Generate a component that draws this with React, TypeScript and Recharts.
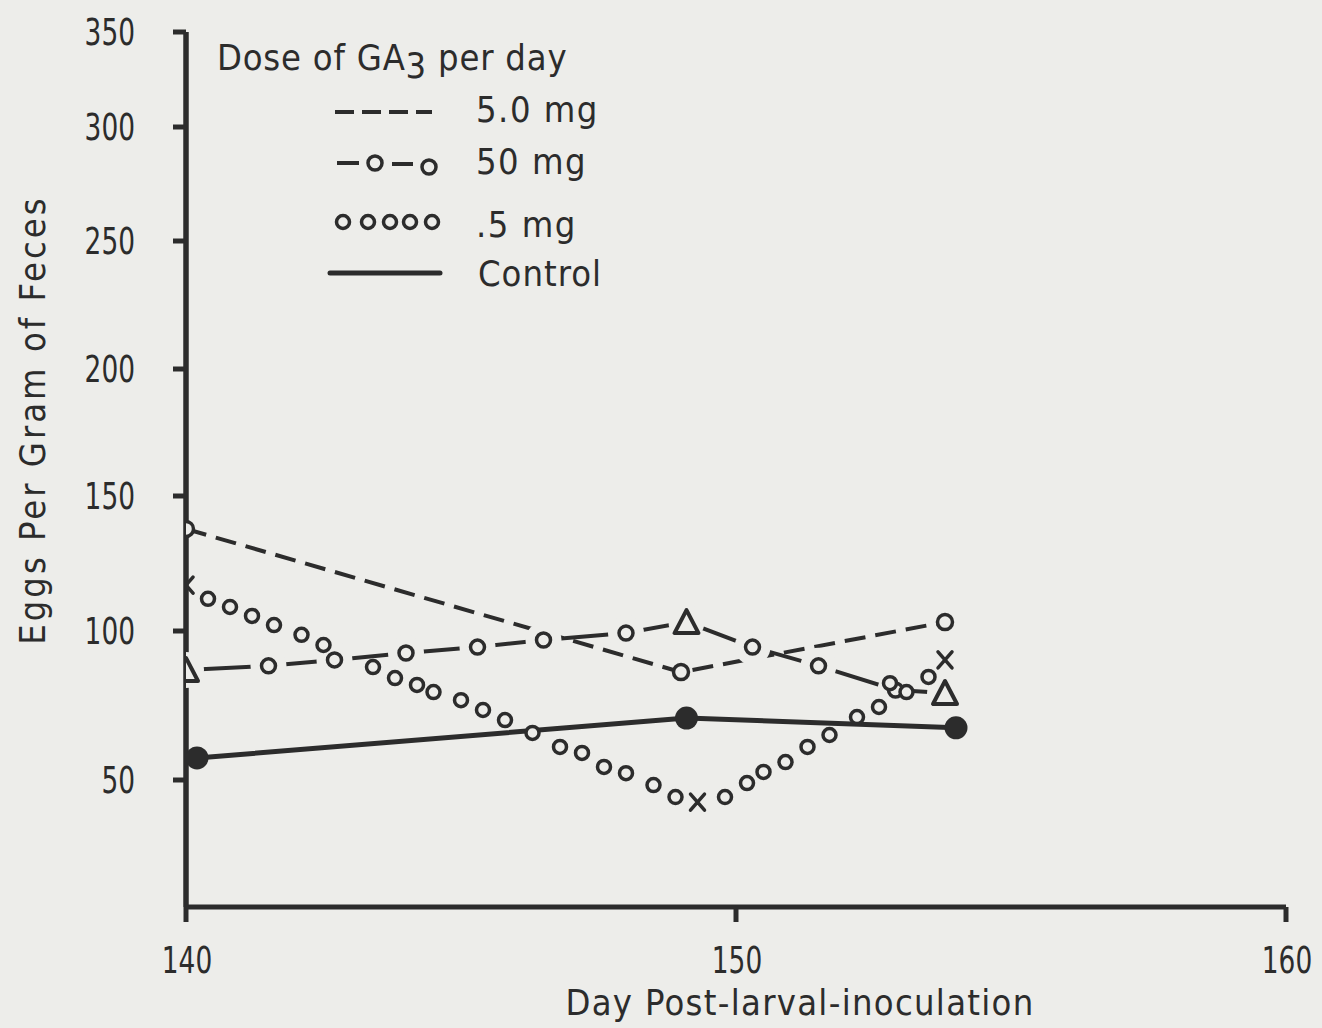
import React from 'react';
import { LineChart, Line, XAxis, YAxis, Legend } from 'recharts';

const INK = '#2c2c2c';
const PAPER = '#ededea';
const FONT = "'DejaVu Sans Condensed', 'Liberation Sans Narrow', sans-serif";

// The original y axis was drawn by hand and its ticks are not evenly spaced,
// so each labelled value is pinned to its measured height above the x axis.
const Y_TICK_VALUES = [0, 50, 100, 150, 200, 250, 300, 350];
const Y_TICK_HEIGHTS = [0, 127, 276, 411, 538, 666, 780, 875];

const X_TICKS = [140, 150, 160];

// 5.0 mg (dashed)
const DOSE5_DAYS = [140, 149, 153.8];
const DOSE5_EGGS = [137.8, 86.2, 103.3];

// 50 mg: measured points (triangles) and the circles drawn along the line
const DOSE50_DAYS = [140, 149.1, 153.8];
const DOSE50_EGGS = [86.9, 103.3, 79.2];
const DOSE50_TRAIL_DAYS = [141.5, 142.7, 144.0, 145.3, 146.5, 148.0, 150.3, 151.5, 152.9];
const DOSE50_TRAIL_EGGS = [88.3, 90.3, 92.6, 94.6, 97.0, 99.3, 94.6, 88.3, 80.2];

// .5 mg: measured points (x) and the row of circles between them
const DOSE05_DAYS = [140, 149.3, 153.8];
const DOSE05_EGGS = [117.0, 41.3, 90.3];
const DOSE05_TRAIL_DAYS = [
  140.4, 140.8, 141.2, 141.6, 142.1, 142.5, 143.4, 143.8, 144.2, 144.5, 145.0,
  145.4, 145.8, 146.3, 146.8, 147.2, 147.6, 148.0, 148.5, 148.9, 149.8, 150.2,
  150.5, 150.9, 151.3, 151.7, 152.2, 152.6, 152.8, 153.1, 153.5,
];
const DOSE05_TRAIL_EGGS = [
  111.9, 108.9, 105.6, 102.2, 98.7, 95.3, 87.9, 84.2, 81.9, 79.5, 76.8,
  73.5, 70.1, 65.8, 61.1, 59.1, 54.4, 52.3, 48.0, 43.3, 43.3, 48.8,
  52.7, 56.0, 61.1, 65.1, 71.1, 74.5, 82.5, 79.5, 84.6,
];

// Control (solid, filled dots)
const CONTROL_DAYS = [140.2, 149.1, 154];
const CONTROL_EGGS = [57.4, 70.8, 67.5];

function toAxis(v: number): number {
  const n = Y_TICK_VALUES.length;
  for (let i = 1; i < n; i++) {
    if (v <= Y_TICK_VALUES[i] || i === n - 1) {
      const v0 = Y_TICK_VALUES[i - 1];
      const v1 = Y_TICK_VALUES[i];
      const h0 = Y_TICK_HEIGHTS[i - 1];
      const h1 = Y_TICK_HEIGHTS[i];
      return h0 + ((v - v0) / (v1 - v0)) * (h1 - h0);
    }
  }
  return v;
}

type Row = { day: number; eggs: number; y: number; measured: boolean };

function rows(days: number[], eggs: number[], measured = true): Row[] {
  return days.map((d, i) => ({ day: d, eggs: eggs[i], y: toAxis(eggs[i]), measured }));
}

const dose5Rows = rows(DOSE5_DAYS, DOSE5_EGGS);
const dose50Rows = [
  ...rows(DOSE50_DAYS, DOSE50_EGGS),
  ...rows(DOSE50_TRAIL_DAYS, DOSE50_TRAIL_EGGS, false),
].sort((a, b) => a.day - b.day);
const dose05Rows = rows(DOSE05_DAYS, DOSE05_EGGS);
const dose05TrailRows = rows(DOSE05_TRAIL_DAYS, DOSE05_TRAIL_EGGS, false);
const controlRows = rows(CONTROL_DAYS, CONTROL_EGGS);

const yTicks = Y_TICK_HEIGHTS.slice(1);
const yLabel = (h: number) => {
  const i = Y_TICK_HEIGHTS.indexOf(h);
  return i >= 0 ? String(Y_TICK_VALUES[i]) : '';
};

const textStyle = { fill: INK, fontFamily: FONT, fontSize: 36 };
// the typed digits are much narrower than any installed face
const DIGIT_W = 16.8;

const YTickLabel = (p: any) => {
  const { x, y, payload } = p;
  const s = yLabel(payload.value);
  return (
    <text x={x} y={y} dy="0.36em" textAnchor="end" textLength={s.length * DIGIT_W} lengthAdjust="spacingAndGlyphs" {...textStyle} fontSize={37}>
      {s}
    </text>
  );
};

const XTickLabel = (p: any) => {
  const { x, y, payload } = p;
  const s = String(payload.value);
  return (
    <text x={x + 1} y={y} dy="0.72em" textAnchor="middle" textLength={s.length * DIGIT_W} lengthAdjust="spacingAndGlyphs" {...textStyle} fontSize={38}>
      {s}
    </text>
  );
};

const openCircle = (r: number, w: number) => (p: any) => {
  const { cx, cy, index } = p;
  if (cx == null || cy == null) return <g key={`oc-${index}`} />;
  return <circle key={`oc-${index}`} cx={cx} cy={cy} r={r} fill={PAPER} stroke={INK} strokeWidth={w} />;
};

const dose50Dot = (p: any) => {
  const { cx, cy, index, payload } = p;
  if (cx == null || cy == null) return <g key={`d50-${index}`} />;
  if (payload?.measured) {
    return (
      <g key={`d50-${index}`}>
        <circle cx={cx} cy={cy} r={18} fill={PAPER} />
        <path
          d={`M${cx},${cy - 12} L${cx - 12},${cy + 11} L${cx + 12},${cy + 11} Z`}
          fill={PAPER}
          stroke={INK}
          strokeWidth={4}
          strokeLinejoin="round"
        />
      </g>
    );
  }
  return (
    <g key={`d50-${index}`}>
      <circle cx={cx} cy={cy} r={18} fill={PAPER} />
      <circle cx={cx} cy={cy} r={7} fill={PAPER} stroke={INK} strokeWidth={3.5} />
    </g>
  );
};

const crossDot = (p: any) => {
  const { cx, cy, index } = p;
  if (cx == null || cy == null) return <g key={`x-${index}`} />;
  return (
    <path
      key={`x-${index}`}
      d={`M${cx - 7},${cy - 8} L${cx + 7},${cy + 8} M${cx + 7},${cy - 8} L${cx - 7},${cy + 8}`}
      stroke={INK}
      strokeWidth={3.5}
      strokeLinecap="round"
    />
  );
};

const filledDot = (p: any) => {
  const { cx, cy, index } = p;
  if (cx == null || cy == null) return <g key={`f-${index}`} />;
  return <circle key={`f-${index}`} cx={cx} cy={cy} r={11.5} fill={INK} />;
};

function DoseLegend() {
  return (
    <svg width={420} height={280} style={{ display: 'block', overflow: 'visible' }}>
      <text x={17} y={50} {...textStyle} letterSpacing={0.8}>
        Dose of GA<tspan dy={8}>3</tspan>
        <tspan dy={-8}> per day</tspan>
      </text>
      <line x1={135} x2={232} y1={92} y2={92} stroke={INK} strokeWidth={4} strokeDasharray="19 8" />
      <text x={276} y={102} {...textStyle} letterSpacing={1.5}>5.0 mg</text>
      <line x1={137} x2={159} y1={143} y2={143} stroke={INK} strokeWidth={4} />
      <circle cx={175} cy={143} r={7} fill="none" stroke={INK} strokeWidth={3.5} />
      <line x1={192} x2={213} y1={144} y2={144} stroke={INK} strokeWidth={4} />
      <circle cx={229} cy={147} r={7} fill="none" stroke={INK} strokeWidth={3.5} />
      <text x={276} y={154} {...textStyle} letterSpacing={1.5}>50 mg</text>
      {[143, 168, 190, 210, 232].map((x) => (
        <circle key={x} cx={x} cy={202} r={6.5} fill="none" stroke={INK} strokeWidth={3.5} />
      ))}
      <text x={276} y={217} {...textStyle} letterSpacing={1.5}>.5 mg</text>
      <line x1={130} x2={240} y1={253} y2={253} stroke={INK} strokeWidth={5} strokeLinecap="round" />
      <text x={278} y={266} {...textStyle} letterSpacing={1}>Control</text>
    </svg>
  );
}

const YTitle = () => (
  <text
    x={32}
    y={420}
    transform="rotate(-90 32 420)"
    textAnchor="middle"
    dominantBaseline="central"
    letterSpacing={3}
    {...textStyle}
  >
    Eggs Per Gram of Feces
  </text>
);

const XTitle = () => (
  <text x={800} y={1015} textAnchor="middle" letterSpacing={1.3} {...textStyle}>
    Day Post-larval-inoculation
  </text>
);

export default function App() {
  return (
    <div style={{ width: 1322, height: 1028, background: PAPER }}>
      <style>{'body{margin:0;background:' + PAPER + ';}'}</style>
      <LineChart width={1322} height={1028} margin={{ top: 32, right: 36, bottom: 61, left: 0 }}>
        <XAxis
          type="number"
          dataKey="day"
          domain={[140, 160]}
          ticks={X_TICKS}
          interval={0}
          allowDataOverflow
          height={60}
          tickSize={15}
          tickMargin={24}
          tick={XTickLabel}
          tickLine={{ stroke: INK, strokeWidth: 5 }}
          axisLine={{ stroke: INK, strokeWidth: 5 }}
          label={XTitle}
        />
        <YAxis
          type="number"
          domain={[0, Y_TICK_HEIGHTS[Y_TICK_HEIGHTS.length - 1]]}
          ticks={yTicks}
          interval={0}
          allowDataOverflow
          width={186}
          tickSize={13}
          tickMargin={38}
          tick={YTickLabel}
          tickLine={{ stroke: INK, strokeWidth: 5 }}
          axisLine={{ stroke: INK, strokeWidth: 5.5 }}
          label={YTitle}
        />
        <Legend
          content={() => <DoseLegend />}
          layout="horizontal"
          verticalAlign="middle"
          align="center"
          wrapperStyle={{ left: 200, top: 20, width: 420, height: 280 }}
        />
        <Line
          data={dose5Rows}
          dataKey="y"
          type="linear"
          stroke={INK}
          strokeWidth={4}
          strokeDasharray="21 10"
          dot={openCircle(7.5, 3.5)}
          isAnimationActive={false}
        />
        <Line
          data={dose50Rows}
          dataKey="y"
          type="linear"
          stroke={INK}
          strokeWidth={4}
          dot={dose50Dot}
          isAnimationActive={false}
        />
        <Line
          data={controlRows}
          dataKey="y"
          type="linear"
          stroke={INK}
          strokeWidth={5}
          dot={filledDot}
          isAnimationActive={false}
        />
        <Line
          data={dose05TrailRows}
          dataKey="y"
          type="linear"
          stroke="none"
          dot={openCircle(6.5, 3.5)}
          isAnimationActive={false}
        />
        <Line
          data={dose05Rows}
          dataKey="y"
          type="linear"
          stroke="none"
          dot={crossDot}
          isAnimationActive={false}
        />
      </LineChart>
    </div>
  );
}
